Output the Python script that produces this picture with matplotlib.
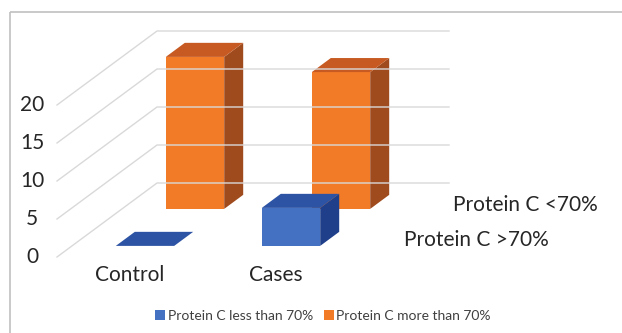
import matplotlib.pyplot as plt
from matplotlib.patches import Polygon, Rectangle, Patch

plt.rcParams['font.family'] = ['Lato', 'DejaVu Sans']

# chart data
categories = ['Control', 'Cases']
series_names = ['Protein C less than 70%', 'Protein C more than 70%']
depth_labels = ['Protein C >70%', 'Protein C <70%']
less_than_70 = [0, 5]
more_than_70 = [20, 18]
y_ticks = [0, 5, 10, 15, 20]

# colours: front, top, side
blue = ('#4471c2', '#2d54a4', '#1f3f8a')
orange = ('#f27b27', '#c65a22', '#a04b1e')

# layout of the fake 3d box (pixels)
X0 = 57          # left edge of the floor, front
CAT_W = 146      # width of one category slot
Y0 = 257         # value 0 at the front
UNIT = 7.6       # pixels per unit
DX, DY = 100, 74 # shift for full depth


def proj(x, v, d):
    return (x + DX * d, Y0 - UNIT * v - DY * d)


def bar(ax, i, value, d0, d1, cols):
    front, top, side = cols
    cx = X0 + CAT_W * (i + 0.5)
    hw = CAT_W * 0.2
    xl, xr = cx - hw, cx + hw
    if value > 0:
        ax.add_patch(Polygon([proj(xl, 0, d0), proj(xr, 0, d0), proj(xr, value, d0), proj(xl, value, d0)],
                             closed=True, fc=front, ec='none'))
        ax.add_patch(Polygon([proj(xr, 0, d0), proj(xr, 0, d1), proj(xr, value, d1), proj(xr, value, d0)],
                             closed=True, fc=side, ec='none'))
    ax.add_patch(Polygon([proj(xl, value, d0), proj(xr, value, d0), proj(xr, value, d1), proj(xl, value, d1)],
                         closed=True, fc=top, ec='none'))


fig = plt.figure(figsize=(6.22, 3.33), dpi=100)
ax = fig.add_axes([0, 0, 1, 1])
ax.set_xlim(0, 622)
ax.set_ylim(333, 0)
ax.axis('off')

# outer frame
ax.add_patch(Rectangle((10, 11.5), 640, 400, fill=False, ec='#c0c0c0', lw=1.2))

# gridlines: side wall diagonal + back wall
x_end = X0 + CAT_W * len(categories)
for v in y_ticks:
    a = proj(X0, v, 0)
    b = proj(X0, v, 1)
    c = proj(x_end, v, 1)
    ax.plot([a[0], b[0], c[0]], [a[1], b[1], c[1]], color='#d9d9d9', lw=1)
    ax.text(32, a[1], str(v), ha='center', va='center', fontsize=15, color='#262626')

# back row first, then front row
for i in range(len(categories)):
    bar(ax, i, more_than_70[i], 0.65, 0.84, orange)
for i in range(len(categories)):
    bar(ax, i, less_than_70[i], 0.15, 0.34, blue)

for i, name in enumerate(categories):
    ax.text(X0 + CAT_W * (i + 0.5), 275, name, ha='center', va='center', fontsize=15, color='#262626')

ax.text(404, 240, depth_labels[0], ha='left', va='center', fontsize=15, color='#262626')
ax.text(453, 205, depth_labels[1], ha='left', va='center', fontsize=15, color='#262626')

handles = [Patch(fc=blue[0]), Patch(fc=orange[0])]
fig.legend(handles, series_names, loc='center', bbox_to_anchor=(323 / 622, 1 - 316 / 333),
           ncol=2, frameon=False, fontsize=10, handlelength=0.75, handleheight=0.75,
           handletextpad=0.15, columnspacing=0.8, labelcolor='#404040')

fig.savefig('out.png', dpi=100)
